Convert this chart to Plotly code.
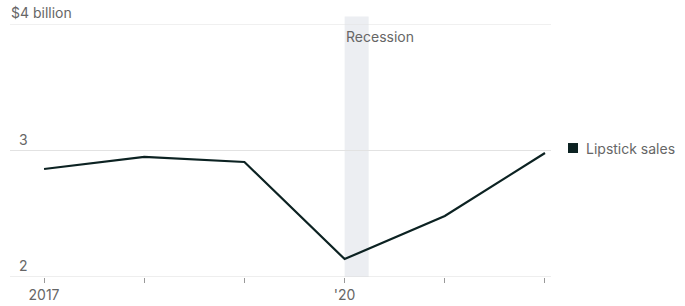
import plotly.graph_objects as go

years = [2017, 2018, 2019, 2020, 2021, 2022]
sales = [2.854, 2.949, 2.909, 2.142, 2.482, 2.980]
x_ticktext = ["2017", "", "", "'20", "", ""]
y_tickvals = [2, 3, 4]
y_ticktext = ["2", "3", "$4 billion"]
recession = [2020.0, 2020.24]
series_name = "Lipstick sales"
y_range = [2, 4]

LINE = "#0c2222"
TEXT = "#666666"
GRID = "#e2e2e2"
FONT = "Inter, Roboto, Arial, sans-serif"

fig = go.Figure()

fig.add_shape(type="rect", xref="x", yref="paper",
              x0=recession[0], x1=recession[1], y0=0, y1=1.03,
              fillcolor="#eceef2", line=dict(width=0), layer="below")

for v in y_tickvals:
    fig.add_shape(type="line", xref="paper", yref="y", x0=0, x1=1, y0=v, y1=v,
                  line=dict(color=GRID if v != 2 else "#dcdcdc", width=1), layer="below")

fig.add_trace(go.Scatter(x=years, y=sales, mode="lines",
                         line=dict(color=LINE, width=2.2),
                         showlegend=False, hoverinfo="skip", cliponaxis=False))

# legend square (paper-referenced so it is not clipped to the plot area)
last_frac = (sales[-1] - y_range[0]) / (y_range[1] - y_range[0])
fig.add_shape(type="rect", xref="paper", yref="paper", xsizemode="pixel", ysizemode="pixel",
              xanchor=1, yanchor=last_frac, x0=17, x1=27, y0=0, y1=10,
              fillcolor=LINE, line=dict(width=0))

annotations = []
for v, t in zip(y_tickvals, y_ticktext):
    shift = -1 if t.startswith("$") else 7  # "$" hangs to the left of the digits
    annotations.append(dict(xref="paper", x=0, y=v, yref="y", text=t,
                            showarrow=False, xanchor="left", yanchor="bottom",
                            yshift=1, xshift=shift, font=dict(size=14, color=TEXT, family=FONT)))
annotations.append(dict(xref="x", x=recession[0], yref="paper", y=1.0, text="Recession",
                        showarrow=False, xanchor="left", yanchor="top", xshift=-1, yshift=-2,
                        font=dict(size=14, color=TEXT, family=FONT)))
annotations.append(dict(xref="x", x=years[-1], yref="y", y=sales[-1],
                        text=series_name,
                        showarrow=False, xanchor="left", yanchor="middle", xshift=39, yshift=5,
                        font=dict(size=14, color=TEXT, family=FONT)))

fig.update_layout(
    width=685, height=306,
    margin=dict(l=10, r=134, t=24, b=29),
    plot_bgcolor="white", paper_bgcolor="white",
    font=dict(family=FONT, size=14, color=TEXT),
    annotations=annotations,
    xaxis=dict(range=[2016.66, 2022.06], tickvals=years, ticktext=x_ticktext,
               ticks="outside", ticklen=5, tickwidth=1, tickcolor="#999999",
               showgrid=False, zeroline=False, showline=False, automargin=False,
               tickfont=dict(size=14, color=TEXT, family=FONT)),
    yaxis=dict(range=y_range, tickvals=y_tickvals, showticklabels=False,
               showgrid=False, zeroline=False, automargin=False,
               showline=False, fixedrange=True),
)

fig.write_html("out.html")
